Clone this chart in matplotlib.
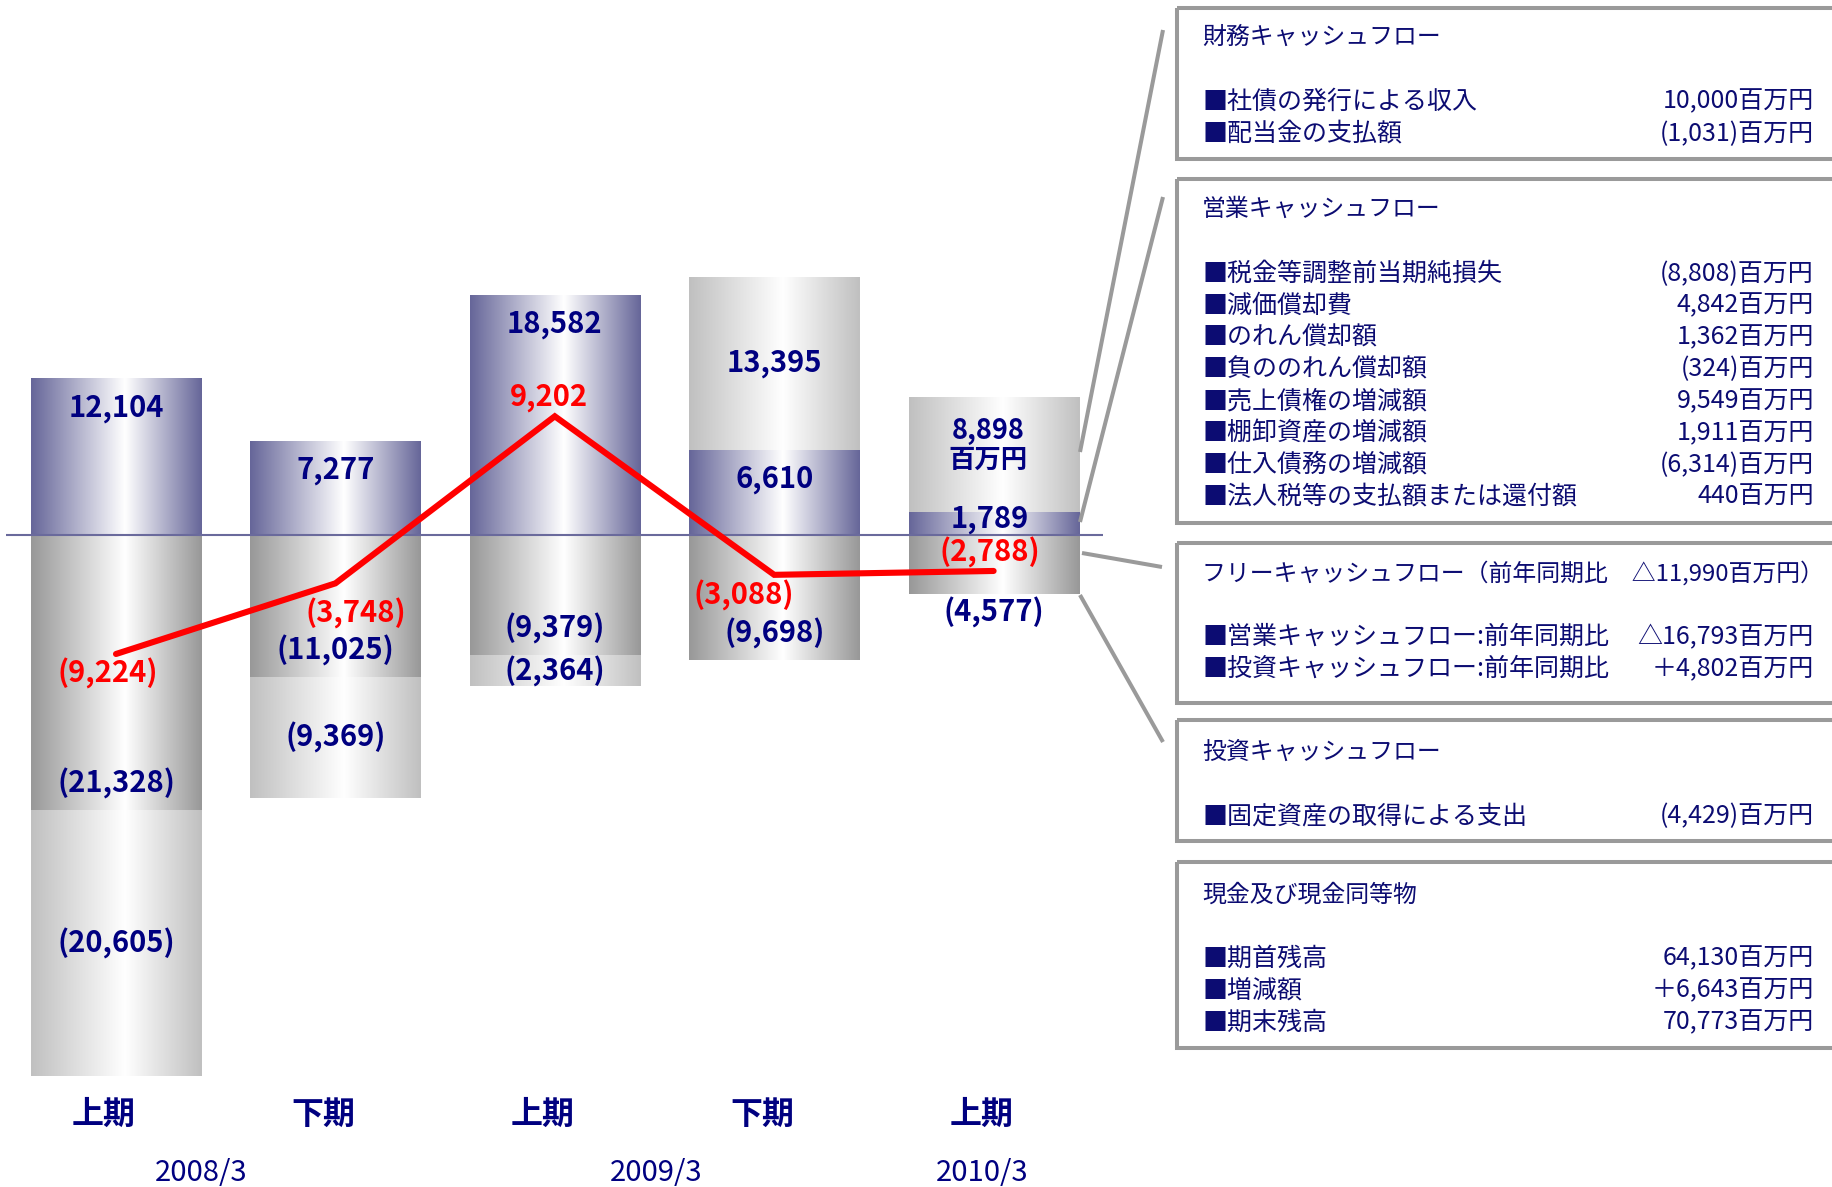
import numpy as np
import matplotlib
matplotlib.use('Agg')
import matplotlib.pyplot as plt
from matplotlib import transforms
from matplotlib.patches import Rectangle

plt.rcParams['font.family'] = ['Noto Sans CJK JP', 'DejaVu Sans']

# --- data -------------------------------------------------------------
periods = ['上期', '下期', '上期', '下期', '上期']
years = ['2008/3', '2009/3', '2010/3']
year_pos = [0.39, 2.46, 3.95]
operating = [12104, 7277, 18582, 6610, 1789]
investing = [-21328, -11025, -9379, -9698, -4577]
financing = [-20605, -9369, -2364, 13395, 8898]
free_cf = [-9224, -3748, 9202, -3088, -2788]

fin_title = '財務キャッシュフロー'
fin_items = ['社債の発行による収入', '配当金の支払額']
fin_vals = ['10,000', '(1,031)']

op_title = '営業キャッシュフロー'
op_items = ['税金等調整前当期純損失', '減価償却費', 'のれん償却額', '負ののれん償却額',
            '売上債権の増減額', '棚卸資産の増減額', '仕入債務の増減額', '法人税等の支払額または還付額']
op_vals = ['(8,808)', '4,842', '1,362', '(324)', '9,549', '1,911', '(6,314)', '440']

free_title = 'フリーキャッシュフロー（前年同期比　△11,990百万円）'
free_items = ['営業キャッシュフロー:前年同期比', '投資キャッシュフロー:前年同期比']
free_vals = ['△16,793', '＋4,802']

inv_title = '投資キャッシュフロー'
inv_items = ['固定資産の取得による支出']
inv_vals = ['(4,429)']

cash_title = '現金及び現金同等物'
cash_items = ['期首残高', '増減額', '期末残高']
cash_vals = ['64,130', '＋6,643', '70,773']

# --- style ------------------------------------------------------------
NAVY = '#000080'
TXT = '#0c0c72'
RED = '#ff0000'
OP_EDGE = (102, 102, 153)
INV_EDGE = (152, 152, 152)
FIN_EDGE = (192, 192, 192)
BAR_W = 0.775


def fmt(v):
    return f'{v:,}' if v >= 0 else f'({-v:,})'


def grad(edge, n=256, peak=0.55):
    t = np.linspace(0, 1, n)
    w = np.where(t < peak, t / peak, (1 - t) / (1 - peak))
    e = np.array(edge) / 255.0
    rgb = e[None, :] * (1 - w[:, None]) + w[:, None]
    return rgb[None, :, :]


fig = plt.figure(figsize=(18.33, 11.87), dpi=100)
ax = fig.add_axes([0, 0, 1105 / 1833, 1])
ov = fig.add_axes([0, 0, 1, 1])
ov.set_xlim(0, 1833)
ov.set_ylim(1187, 0)
ov.axis('off')
ov.patch.set_alpha(0)


def seg(x, y0, y1, edge):
    ax.imshow(grad(edge), extent=[x - BAR_W / 2, x + BAR_W / 2, min(y0, y1), max(y0, y1)],
              aspect='auto', interpolation='bilinear', zorder=1)


lab = dict(ha='center', va='center', fontsize=21, fontweight='bold', color=NAVY,
           textcoords='offset points', zorder=5)

x = np.arange(len(operating))
last = len(x) - 1
for i in x:
    op, inv, fin = operating[i], investing[i], financing[i]
    seg(i, 0, op, OP_EDGE)
    seg(i, 0, inv, INV_EDGE)
    if fin < 0:
        seg(i, inv, inv + fin, FIN_EDGE)
        ax.annotate(fmt(fin), (i, inv + fin / 2), xytext=(0, 0), **lab)
    else:
        seg(i, op, op + fin, FIN_EDGE)
        if i == last:
            ax.annotate(fmt(fin), (i, op + fin / 2), xytext=(-4, 17), **{**lab, 'fontsize': 19.5})
            ax.annotate('百万円', (i, op + fin / 2), xytext=(-4, -4.5), **{**lab, 'fontsize': 19})
        else:
            ax.annotate(fmt(fin), (i, op + fin / 2), xytext=(0, 0), **lab)
    if i == last:
        ax.annotate(fmt(op), (i, op / 2), xytext=(-3, 3), **lab)
        ax.annotate(fmt(inv), (i, inv), xytext=(0, -13), **lab)
    else:
        ax.annotate(fmt(op), (i, op), xytext=(0, -21), **lab)
        ax.annotate(fmt(inv), (i, inv), xytext=(0, 19.5), **lab)

ax.hlines(0, -0.5, 4.5, color='#6a6a9c', lw=1.5, zorder=3)
ax.plot(x, free_cf, color=RED, lw=4.4, solid_capstyle='round', solid_joinstyle='miter', zorder=4)
red_off = [(-6, -14), (15, -22), (-4, 14), (-22, -15), (-3, 13)]
for i in x:
    ax.annotate(fmt(free_cf[i]), (i, free_cf[i]), xytext=red_off[i],
                **{**lab, 'color': RED})

ax.set_xlim(-116 / 219.4, (1105 - 116) / 219.4)
ax.set_ylim(-652 / 0.0129, 535 / 0.0129)
ax.axis('off')

mix = transforms.blended_transform_factory(ax.transData, ov.transData)
for i, p in enumerate(periods):
    ax.text(i - 0.055, 1115, p, transform=mix, ha='center', va='center',
            fontsize=23, fontweight='bold', color=NAVY)
for p, yr in zip(year_pos, years):
    ax.text(p, 1173, yr, transform=mix, ha='center', va='center', fontsize=21, color=NAVY)

# --- right-hand panels -------------------------------------------------
panels = [
    (fin_title, fin_items, fin_vals, 8, 159, 37.5, 101.7),
    (op_title, op_items, op_vals, 179, 523, 209, 273.6),
    (free_title, free_items, free_vals, 543, 703, 573, 637),
    (inv_title, inv_items, inv_vals, 720, 841, 752, 816),
    (cash_title, cash_items, cash_vals, 862, 1048, 895.5, 958.6),
]
for title, items, vals, top, bot, ty, iy in panels:
    ov.add_patch(Rectangle((1177, top), 700, bot - top, fill=False,
                           edgecolor='#9a9a9a', lw=2.9, zorder=2))
    ov.text(1202, ty, title, ha='left', va='center', fontsize=17.2, color=TXT)
    for k, (it, v) in enumerate(zip(items, vals)):
        yy = iy + k * 31.9
        ov.text(1203, yy, '■' + it, ha='left', va='center', fontsize=18, color=TXT)
        ov.text(1814, yy, v + '百万円', ha='right', va='center', fontsize=18, color=TXT)

connectors = [((1080, 452), (1163, 30)), ((1080, 522), (1163, 197)),
              ((1082, 553), (1162, 567)), ((1080, 595), (1163, 742))]
for (x0, y0), (x1, y1) in connectors:
    ov.plot([x0, x1], [y0, y1], color='#9a9a9a', lw=2.9, solid_capstyle='butt')

fig.savefig('out.png', dpi=100)
